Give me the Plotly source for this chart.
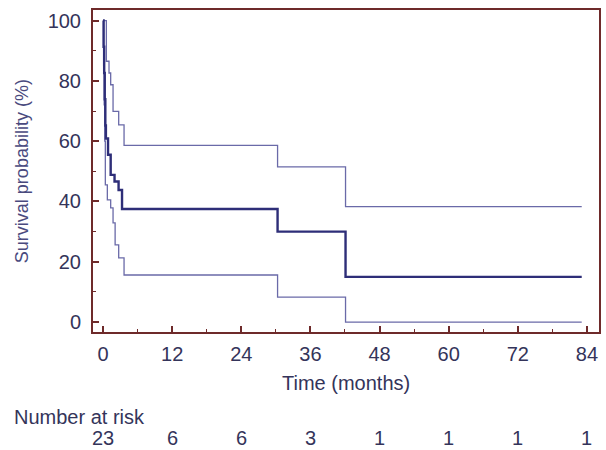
import plotly.graph_objects as go

# Kaplan-Meier estimate (step values hold from time[i] until time[i+1])
main_time = [0, 0.1, 0.2, 0.3, 0.4, 0.5, 0.87, 1.33, 2.0, 2.7, 3.3, 30.3, 42.1, 83.1]
main_surv = [100, 91.3, 82.6, 73.9, 65.2, 60.9, 55.5, 48.8, 46.6, 43.8, 37.5, 30.0, 15.0, 15.0]

# Upper 95% confidence limit
upper_time = [0, 0.58, 1.04, 1.33, 1.74, 2.72, 3.65, 30.3, 42.1, 83.1]
upper_surv = [100, 86.5, 82.6, 78.7, 69.9, 65.4, 58.6, 51.5, 38.3, 38.3]

# Lower 95% confidence limit
lower_time = [0, 0.1, 0.2, 0.3, 0.4, 0.75, 1.33, 1.74, 2.1, 2.72, 3.65, 30.3, 42.1, 83.1]
lower_surv = [100, 85.0, 72.0, 60.0, 45.5, 40.5, 37.9, 32.9, 25.6, 21.3, 15.6, 8.3, 0.0, 0.0]

# Number at risk
risk_times = [0, 12, 24, 36, 48, 60, 72, 84]
risk_counts = [23, 6, 6, 3, 1, 1, 1, 1]

x_ticks = [0, 12, 24, 36, 48, 60, 72, 84]
y_ticks = [0, 20, 40, 60, 80, 100]

MAIN = "#2e2e78"
CI = "#6a6aa8"
FRAME = "#6e2a2a"
TEXT = "#34345a"
FONT = "Liberation Sans, Arial, sans-serif"
FS = 20

fig = go.Figure()
for t, s, c, w in [(upper_time, upper_surv, CI, 1.3),
                   (lower_time, lower_surv, CI, 1.3),
                   (main_time, main_surv, MAIN, 2.4)]:
    fig.add_trace(go.Scatter(x=t, y=s, mode="lines", line=dict(color=c, width=w, shape="hv"),
                             showlegend=False, hoverinfo="skip"))

fig.update_xaxes(
    range=[-1.74, 86.1], tickvals=x_ticks, ticktext=[str(v) for v in x_ticks],
    ticks="inside", ticklen=6, tickwidth=1.5, tickcolor=FRAME,
    minor=dict(ticks="inside", ticklen=3, tickwidth=1, tickcolor=FRAME, dtick=6, tick0=0),
    showline=True, linecolor=FRAME, linewidth=2, mirror=True,
    showgrid=False, zeroline=False, automargin=False,
    tickfont=dict(size=FS, color=TEXT, family=FONT),
    ticklabelstandoff=3,
)
fig.update_yaxes(
    range=[-3.3, 103.5], tickvals=y_ticks, ticktext=[str(v) for v in y_ticks],
    ticks="inside", ticklen=6, tickwidth=1.5, tickcolor=FRAME,
    minor=dict(ticks="inside", ticklen=3, tickwidth=1, tickcolor=FRAME, dtick=10, tick0=0),
    showline=True, linecolor=FRAME, linewidth=2, mirror=True,
    showgrid=False, zeroline=False, automargin=False,
    tickfont=dict(size=FS, color=TEXT, family=FONT),
    ticklabelstandoff=6,
)

annotations = [
    dict(text="Time (months)", xref="paper", yref="paper", x=0.5, y=-0.158,
         xanchor="center", yanchor="middle", showarrow=False,
         font=dict(size=FS, color=TEXT, family=FONT)),
    dict(text="Survival probability (%)", xref="paper", yref="paper", x=-0.140, y=0.5,
         xanchor="center", yanchor="middle", showarrow=False, textangle=-90,
         font=dict(size=18, color="#4a4a7e", family=FONT)),
    dict(text="Number at risk", xref="paper", yref="paper", x=-0.160, y=-0.264,
         xanchor="left", yanchor="middle", showarrow=False,
         font=dict(size=FS, color=TEXT, family=FONT)),
]
for t, n in zip(risk_times, risk_counts):
    annotations.append(dict(text=str(n), xref="x", yref="paper", x=t, y=-0.329,
                            xanchor="center", yanchor="middle", showarrow=False,
                            font=dict(size=FS, color=TEXT, family=FONT)))

fig.update_layout(
    width=606, height=450,
    margin=dict(l=93, r=7, t=10, b=118),
    paper_bgcolor="white", plot_bgcolor="white",
    annotations=annotations,
)

fig.write_html("out.html", config={"displayModeBar": False},
               post_script="document.body.style.margin='0';document.body.style.padding='0';")
